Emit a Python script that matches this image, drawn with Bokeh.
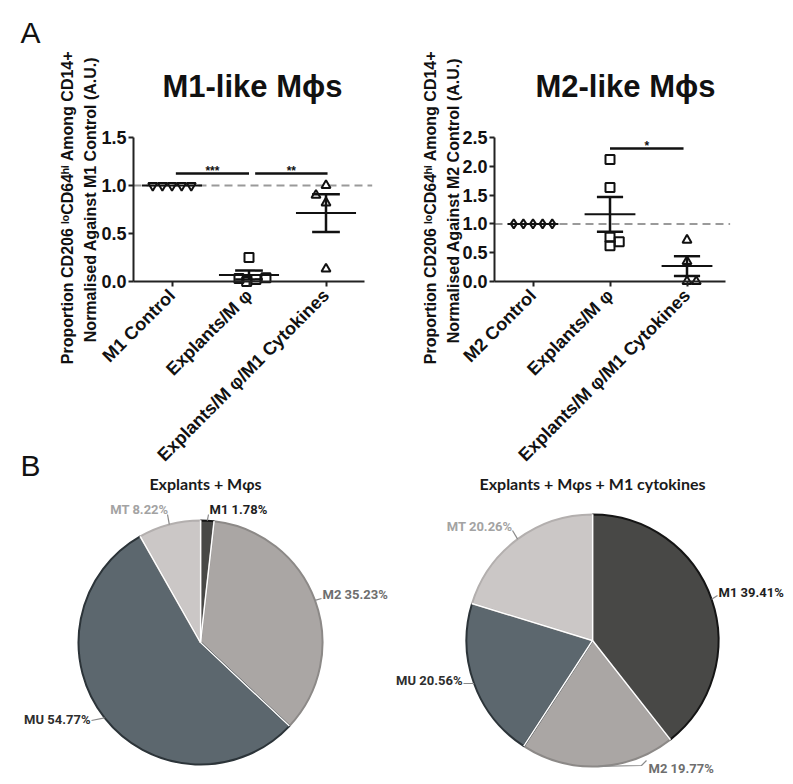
import math
import numpy as np
from bokeh.plotting import figure
from bokeh.models import LinearAxis, FixedTicker, PrintfTickFormatter, ColumnDataSource, Range1d
from bokeh.embed import file_html
from bokeh.resources import INLINE
from bokeh.core.properties import value

# ---------------- data ----------------
m1_categories = ["M1 Control", "Explants/M φ", "Explants/M φ/M1 Cytokines"]
m2_categories = ["M2 Control", "Explants/M φ", "Explants/M φ/M1 Cytokines"]

m1_control = [1.0, 1.0, 1.0, 1.0, 1.0]
m1_explants = [0.25, 0.03, 0.0, 0.02, 0.04]
m1_cytokines = [1.0, 0.90, 0.82, 0.13]

m2_control = [1.0, 1.0, 1.0, 1.0, 1.0]
m2_explants = [2.12, 1.63, 0.77, 0.62, 0.69]
m2_cytokines = [0.72, 0.35, 0.0, 0.0]

# horizontal scatter of the dots within each group (category units)
jit_control = [-0.25, -0.125, 0.0, 0.125, 0.25]
jit_m1_explants = [0.0, -0.13, -0.03, 0.09, 0.22]
jit_m1_cytokines = [0.0, -0.13, 0.0, 0.0]
jit_m2_explants = [0.0, 0.0, 0.0, 0.0, 0.12]
jit_m2_cytokines = [0.0, 0.0, 0.0, 0.12]

m1_yticks = [0.0, 0.5, 1.0, 1.5]
m2_yticks = [0.0, 0.5, 1.0, 1.5, 2.0, 2.5]

m1_sig = [(1.05, 2.0, 1.125, "***"), (2.08, 3.02, 1.125, "**")]
m2_sig = [(2.0, 2.955, 2.31, "*")]

pie_labels = ["M1", "M2", "MU", "MT"]
pie1_values = [1.78, 35.23, 54.77, 8.22]
pie2_values = [39.41, 19.77, 20.56, 20.26]
pie_fill = ["#484846", "#aaa6a4", "#5c676e", "#cbc7c6"]
pie_edge = ["#151515", "#8c8987", "#2c3439", "#b3afae"]
pie_text = ["#1e1e1e", "#6e6e6e", "#2e2e2e", "#a3a3a3"]

FONT_NAME = "Liberation Sans"
FONT = value(FONT_NAME)
INK = "#111111"
W, H = 793, 784

# one canvas; default ranges are page pixels (y flipped), extra ranges for panels A
p = figure(width=W, height=H, x_range=Range1d(0, W), y_range=Range1d(0, H),
           x_axis_type=None, y_axis_type=None, output_backend="svg",
           toolbar_location=None, min_border=0)
p.outline_line_color = None
p.background_fill_color = "white"
p.extra_x_ranges = {"x1": Range1d(-1.2273, 9.0714), "x2": Range1d(-5.9156, 4.3831)}
p.extra_y_ranges = {"y1": Range1d(-5.2396, 2.9271), "y2": Range1d(-8.7326, 4.8785)}


def sem(v):
    a = np.asarray(v, dtype=float)
    return float(a.std(ddof=1) / math.sqrt(len(a)))


def scatter_panel(xn, yn, cats, groups, jits, markers, yticks, ybound,
                  title, title_xy, ylab_xy, sig, star_dy, dash_end,
                  mean_hw, cap_hw, ylabel2):
    kw = dict(x_range_name=xn, y_range_name=yn)
    xa = LinearAxis(fixed_location=0, bounds=(0.5, 3.5),
                    ticker=FixedTicker(ticks=[1, 2, 3]),
                    major_label_overrides={1: cats[0], 2: cats[1], 3: cats[2]},
                    major_label_orientation=math.pi / 4, **kw)
    ya = LinearAxis(fixed_location=0.5, bounds=ybound,
                    ticker=FixedTicker(ticks=yticks),
                    formatter=PrintfTickFormatter(format="%.1f"), **kw)
    for ax in (xa, ya):
        ax.axis_line_width = 2
        ax.axis_line_color = "#222222"
        ax.major_tick_line_width = 2
        ax.major_tick_line_color = "#222222"
        ax.major_tick_in = 0
        ax.minor_tick_line_color = None
        ax.major_label_text_font = FONT_NAME
        ax.major_label_text_font_style = "bold"
        ax.major_label_text_font_size = "18px"
        ax.major_label_text_color = INK
    xa.major_tick_out = 5
    xa.major_label_standoff = 6
    ya.major_tick_out = 5
    ya.major_label_standoff = 2
    p.add_layout(xa, "below")
    p.add_layout(ya, "left")

    # reference dashed line at 1.0
    p.segment(x0=[0.5], y0=[1.0], x1=[dash_end], y1=[1.0], line_color="#9a9a9a",
              line_width=2, line_dash="8 5", **kw)

    # points
    for gi, (vals, jit, mk) in enumerate(zip(groups, jits, markers)):
        xs = [gi + 1 + j for j in jit]
        p.scatter(xs, vals, marker=mk, size=9, fill_color=None,
                  line_color=INK, line_width=2, **kw)

    # mean +/- SEM
    for gi, vals in enumerate(groups):
        c = gi + 1
        m = float(np.mean(vals))
        s = sem(vals)
        p.segment(x0=[c - mean_hw], y0=[m], x1=[c + mean_hw], y1=[m],
                  line_color=INK, line_width=2, **kw)
        if s > 0:
            p.segment(x0=[c, c - cap_hw, c - cap_hw], y0=[m - s, m + s, m - s],
                      x1=[c, c + cap_hw, c + cap_hw], y1=[m + s, m + s, m - s],
                      line_color=INK, line_width=2.5, **kw)

    # significance bars
    for (a, b, yv, txt) in sig:
        p.segment(x0=[a], y0=[yv], x1=[b], y1=[yv], line_color=INK, line_width=2.5, **kw)
        p.text(x=[(a + b) / 2], y=[yv + star_dy], text=[txt], text_font=FONT,
               text_font_style="bold", text_font_size="12px", text_color=INK,
               text_align="center", text_baseline="alphabetic", **kw)

    # title
    p.text(x=[title_xy[0]], y=[title_xy[1]], text=[title], text_font=FONT,
           text_font_style="bold", text_font_size="31px", text_color=INK,
           text_align="center", text_baseline="middle", **kw)
    # y axis label (two lines, rotated)
    p.text(x=[ylab_xy[0][0], ylab_xy[1][0]], y=[ylab_xy[0][1], ylab_xy[1][1]],
           text=["Proportion CD206 \u02e1\u1d52CD64\u02b0\u2071 Among CD14+", ylabel2],
           text_font=FONT, text_font_style="bold", text_font_size="16px",
           text_color=INK, angle=math.pi / 2, text_align="center",
           text_baseline="middle", **kw)


scatter_panel(
    "x1", "y1", m1_categories,
    [m1_control, m1_explants, m1_cytokines],
    [jit_control, jit_m1_explants, jit_m1_cytokines],
    ["inverted_triangle", "square", "triangle"], m1_yticks, (0, 1.5),
    "M1-like M\u03d5s", (2.045, 2.03), [(-0.357, 0.771), (-0.058, 0.854)],
    m1_sig, 0.022, 3.6, 0.39, 0.18,
    "Normalised Against M1 Control (A.U.)")

scatter_panel(
    "x2", "y2", m2_categories,
    [m2_control, m2_explants, m2_cytokines],
    [jit_control, jit_m2_explants, jit_m2_cytokines],
    ["diamond", "square", "triangle"], m2_yticks, (0, 2.5),
    "M2-like M\u03d5s", (2.201, 3.385), [(-0.331, 1.285), (-0.032, 1.406)],
    m2_sig, 0.035, 3.56, 0.33, 0.17,
    "Normalised Against M2 Control (A.U.)")


# ---------------- pies (page pixel coordinates, y flipped) ----------------
def draw_pie(cx, cy, r, vals, title, title_xy, label_pos, leader_pts):
    tot = float(sum(vals))
    cum = np.concatenate([[0.0], np.cumsum(vals)]) / tot
    ends = math.pi / 2 - 2 * math.pi * cum[:-1]
    starts = math.pi / 2 - 2 * math.pi * cum[1:]
    mids = (starts + ends) / 2
    src = ColumnDataSource(dict(start=starts, end=ends, fill=pie_fill, edge=pie_edge))
    p.wedge(x=cx, y=cy, radius=r, start_angle="start", end_angle="end",
            fill_color="fill", line_color="edge", line_width=2, source=src)
    p.segment(x0=[cx] * len(ends), y0=[cy] * len(ends),
              x1=list(cx + r * np.cos(ends)), y1=list(cy + r * np.sin(ends)),
              line_color="white", line_width=1.5)
    for i, lab in enumerate(pie_labels):
        lx, ly, al = label_pos[i]
        pts = leader_pts[i]
        xs = [cx + r * math.cos(mids[i])] + [q[0] for q in pts]
        ys = [cy + r * math.sin(mids[i])] + [H - q[1] for q in pts]
        p.line(xs, ys, line_color="#8a8a8a", line_width=1.2)
        p.text(x=[lx], y=[H - ly], text=[f"{lab} {vals[i]:.2f}%"],
               text_font=value("Roboto"), text_font_style="bold", text_font_size="13px",
               text_color=pie_text[i], text_align=al, text_baseline="middle")
    p.text(x=[title_xy[0]], y=[H - title_xy[1]], text=[title], text_font=value("Lato"),
           text_font_style="bold", text_font_size="16px", text_color="#1a1a1a",
           text_align="center", text_baseline="middle")


draw_pie(200, H - 642, 122, pie1_values, "Explants + M\u03c6s", (205, 483),
         [(209, 509, "left"), (322, 594, "left"), (90, 719, "right"), (168, 509, "right")],
         [[(208, 514)], [(321, 598)], [(91, 720)], [(167, 514)]])
draw_pie(592, H - 640, 126, pie2_values, "Explants + M\u03c6s + M1 cytokines", (592, 483),
         [(718, 592, "left"), (648, 768, "left"), (462, 680, "right"), (512, 526, "right")],
         [[(717, 595)], [(641, 765), (646, 760)], [(463, 683)], [(512, 530)]])

# panel letters
p.text(x=[30, 30], y=[H - 32, H - 465], text=["A", "B"], text_font=FONT,
       text_font_size="30px", text_color=INK, text_align="center", text_baseline="middle")

open("out.html", "w").write(file_html(p, INLINE))
